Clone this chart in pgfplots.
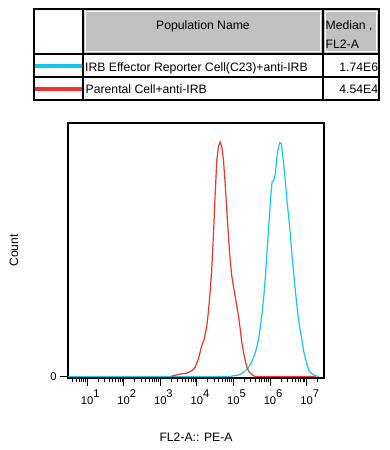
\documentclass[border=0pt]{standalone}
\usepackage{fontspec}
\setmainfont{Liberation Sans}
\usepackage{pgfplots}
\pgfplotsset{compat=1.18}
\definecolor{cyanc}{RGB}{20,200,240}
\definecolor{redc}{RGB}{240,50,50}
\definecolor{hdrgray}{RGB}{192,192,192}
\newcommand{\tl}[1]{10\rlap{\raisebox{7.5bp}{#1}}}
\newcommand{\tf}{\fontsize{12.2bp}{14bp}\selectfont}
\begin{document}
\begin{tikzpicture}[x=1bp,y=1bp]
\path[use as bounding box] (0,0) rectangle (389,450);
% ---- table ----
\fill[hdrgray] (83,441) rectangle (323,396);
\fill[hdrgray] (323,441) rectangle (379,396);
\draw[white, line width=0.8bp] (85.5,438.5) rectangle (320.5,398.5);
\draw[white, line width=0.8bp] (325.5,438.5) rectangle (376.5,398.5);
\draw[line width=1.5bp] (34,441) rectangle (379,350);
\draw[line width=1.5bp] (83,441) -- (83,350);
\draw[line width=1.5bp] (323,441) -- (323,350);
\draw[line width=1.5bp] (34,396) -- (379,396);
\draw[line width=1.5bp] (34,373) -- (379,373);
\draw[cyanc, line width=4bp] (35,384) -- (82,384);
\draw[redc, line width=4bp] (35,361) -- (82,361);
\node[font=\tf, anchor=base, inner sep=0] at (203,420) {Population Name};
\node[font=\tf, anchor=base west, inner sep=0] at (325.5,420.5) {Median ,};
\node[font=\tf, anchor=base west, inner sep=0] at (325.5,401.5) {FL2-A};
\node[font=\tf, anchor=base west, inner sep=0] at (85,378.3) {IRB Effector Reporter Cell(C23)+anti-IRB};
\node[font=\tf, anchor=base east, inner sep=0] at (378.3,378.3) {1.74E6};
\node[font=\tf, anchor=base west, inner sep=0] at (85.5,356) {Parental Cell+anti-IRB};
\node[font=\tf, anchor=base east, inner sep=0] at (378.3,356) {4.54E4};
% ---- histogram ----
\begin{axis}[
  at={(68bp,72bp)}, anchor=south west,
  width=256bp, height=255bp, scale only axis,
  xmode=log, xmin=3, xmax=3e7, ymin=-0.65, ymax=108.1,
  axis line style={line width=1.6bp},
  tick style={line width=0.8bp, black},
  tick align=outside,
  tick pos=left,
  major tick length=8bp, minor tick length=4.5bp,
  xtick={10,100,1000,10000,100000,1000000,10000000},
  xticklabels={\tl{1},\tl{2},\tl{3},\tl{4},\tl{5},\tl{6},\tl{7}},
  minor xtick={4,5,6,7,8,9,20,30,40,50,60,70,80,90,200,300,400,500,600,700,800,900,2000,3000,4000,5000,6000,7000,8000,9000,20000,30000,40000,50000,60000,70000,80000,90000,200000,300000,400000,500000,600000,700000,800000,900000,2000000,3000000,4000000,5000000,6000000,7000000,8000000,9000000,20000000},
  ytick={0}, yticklabels={0},
  ticklabel style={font=\fontsize{11.2bp}{13bp}\selectfont},
  xlabel={FL2-A:: PE-A}, ylabel={Count},
  label style={font=\tf},
  xlabel style={at={(axis description cs:0.5,-0.231)}, anchor=center},
  ylabel style={at={(axis description cs:-0.211,0.5)}, anchor=center},
]
\addplot[cyanc, line width=1.2bp] coordinates {
(3,0) (81000,0) (100000,0.3) (138000,0.6) (170000,1.4) (211000,2.4) (260000,3.8) (323000,6.6) (398000,10.2) (444000,13) (493000,16.5) (549000,21.5) (610000,27.2) (677000,34.2) (750000,42.7) (834000,54) (927000,63.9) (1.03e6,75.2) (1.14e6,83) (1.27e6,83.7) (1.41e6,86.6) (1.51e6,92.2) (1.64e6,96.5) (1.86e6,99.7) (2.04e6,99.3) (2.26e6,93.6) (2.51e6,86.6) (2.85e6,76.7) (3.16e6,69.6) (3.51e6,62.5) (3.82e6,55.4) (4.16e6,48.4) (4.52e6,42.7) (5.02e6,35.6) (5.58e6,28.6) (6.2e6,22.9) (6.89e6,18.7) (7.65e6,14.4) (8.5e6,10.2) (9.45e6,7.4) (1.05e7,4.5) (1.17e7,2.4) (1.44e7,1.0) (1.78e7,0.3) (2.2e7,0)
};
\addplot[redc, line width=1.2bp] coordinates {
(2000,0) (2240,0.3) (3390,1.0) (5250,1.4) (7200,2.4) (8900,3.8) (11000,7.4) (12200,10.2) (13500,13) (15800,15.8) (18700,21.5) (20600,27.2) (22900,35.6) (25500,45.5) (28300,59.7) (31500,76.7) (35100,92.2) (38900,97.9) (43300,100) (48100,97.9) (53500,92.2) (59400,82.3) (66000,71) (73300,59.7) (81500,49.8) (90500,42.7) (100000,38.5) (112000,34.2) (124000,30) (138000,25.7) (154000,20.1) (170000,14.4) (190000,10.2) (211000,6.6) (235000,3.8) (260000,2.4) (290000,1.4) (357000,0.3) (397000,0) (1.78e7,0)
};
\end{axis}
\end{tikzpicture}
\end{document}
